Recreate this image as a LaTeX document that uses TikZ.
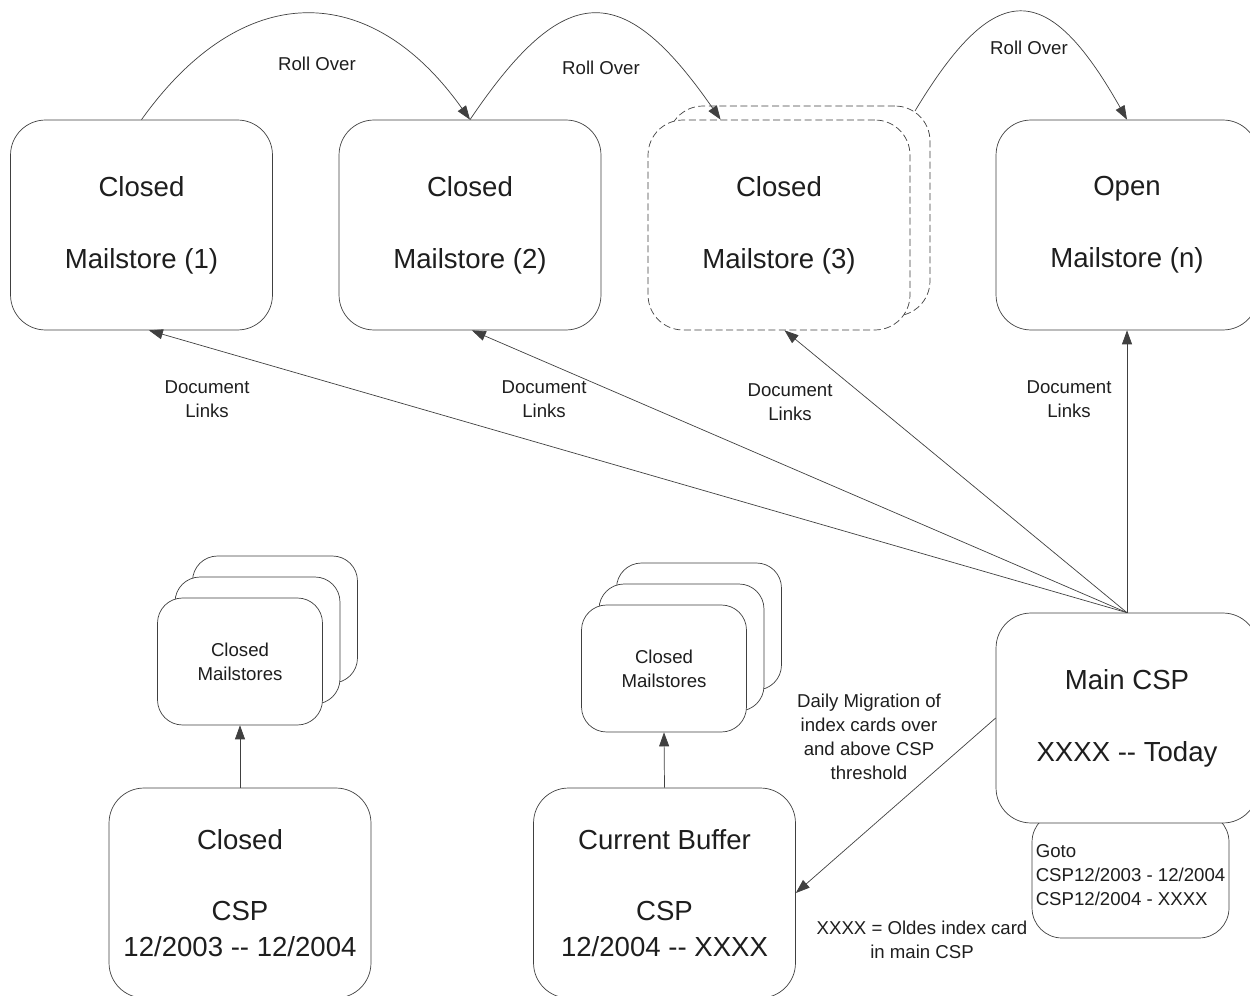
\documentclass[tikz,border=0pt]{standalone}
\usepackage{fontspec}
\setmainfont{Liberation Sans}
\usetikzlibrary{arrows.meta,shapes}
\definecolor{linegray}{HTML}{404040}
\definecolor{textgray}{HTML}{1E1E1E}
\newcommand\bigfont{\fontsize{15.7}{20.4}\selectfont}
\newcommand\labelfont{\fontsize{10.6}{13.6}\selectfont}
\tikzstyle{store}=[rectangle,rounded corners=0.7cm,draw=linegray,fill=white,minimum width=5.24cm,minimum height=4.2cm,align=center,font=\bigfont,text=textgray]
\tikzstyle{dashedstore}=[dash pattern=on 4pt off 2pt]
\tikzstyle{smallstore}=[rectangle,rounded corners=0.5cm,draw=linegray,fill=white,minimum width=3.3cm,minimum height=2.54cm,align=center,font=\labelfont,text=textgray]
\tikzstyle{gotobox}=[rectangle,rounded corners=0.6cm,draw=linegray,fill=white,minimum width=3.94cm,minimum height=2.52cm,align=left,font=\labelfont,text=textgray,inner sep=0pt]
\tikzstyle{edge} = [draw=linegray,-{Triangle[length=0.28cm,width=0.2cm]}]
\tikzstyle{note} = [font=\labelfont,align=center,text=textgray]

\begin{document}
\begin{tikzpicture}[x=0.02cm,y=-0.02cm]

    \useasboundingbox (0,0) rectangle (1250,996);
    \clip (0,0) rectangle (1250,996);

    % mailstores along the top
    \foreach \x/\name/\state/\store in {141.5/ms1/Closed/Mailstore (1), 470/ms2/Closed/Mailstore (2), 1127/ms4/Open/Mailstore (n)}
        \node[store] (\name) at (\x,225) {\state\\[20.5pt]\store};

    \node[store, dashedstore] (ms3b) at (799,211) {};
    \node[store, dashedstore] (ms3) at (779,225) {Closed\\[20.5pt]Mailstore (3)};

    % main csp with its goto list
    \node[gotobox] (goto) at (1130.5,875) {Goto\\CSP12/2003 - 12/2004\\CSP12/2004 - XXXX};
    \node[store] (main) at (1127,718) {Main CSP\\[20.5pt]XXXX -\kern0pt- Today};

    % csp boxes at the bottom
    \node[store] (ccsp) at (240,893) {Closed\\[20.5pt]CSP\\12/2003 -\kern0pt- 12/2004};
    \node[store] (cbuf) at (664.5,893) {Current Buffer\\[20.5pt]CSP\\12/2004 -\kern0pt- XXXX};

    % stacks of closed mailstores
    \foreach \dx/\dy/\name in {35/-42/cmsa, 17.5/-21/cmsb}
        \node[smallstore] (\name) at (240+\dx,661.5+\dy) {};
    \node[smallstore] (cms) at (240,661.5) {Closed\\Mailstores};

    \foreach \dx/\dy/\name in {35/-42/bmsa, 17.5/-21/bmsb}
        \node[smallstore] (\name) at (664+\dx,668.5+\dy) {};
    \node[smallstore] (bms) at (664,668.5) {Closed\\Mailstores};

    \path[edge] (ccsp.north) -- (cms.south);
    \path[edge] (cbuf.north) -- (bms.south);

    % document links
    \foreach \dest/\ang in {ms1/-86.5, ms2/-89.2, ms3/-87.8, ms4/-90}
        \path[edge] (main.north) -- (\dest.\ang);

    \foreach \x/\y/\name in {207/399/dl1, 544/399/dl2, 790/402/dl3, 1069/399/dl4}
        \node[note] (\name) at (\x,\y) {Document\\Links};

    % roll over
    \coordinate (ro3) at (915,111);
    \path[edge] (ms1.north) .. controls (242,-21) and (370,-21) .. (ms2.north);
    \path[edge] (ms2.north) .. controls (565,-21) and (623,-21) .. (ms3.119.5);
    \path[edge] (ro3) .. controls (995,-22) and (1047,-22) .. (ms4.north);

    \foreach \x/\y/\name in {317/64/ro1lab, 601/68/ro2lab, 1029/48/ro3lab}
        \node[note] (\name) at (\x,\y) {Roll Over};

    % migration
    \path[edge] (main.west) -- (cbuf.east);
    \node[note] (mig) at (869,737) {Daily Migration of\\index cards over\\and above CSP\\threshold};
    \node[note] (legend) at (922,940) {XXXX = Oldes index card\\in main CSP};

\end{tikzpicture}
\end{document}
